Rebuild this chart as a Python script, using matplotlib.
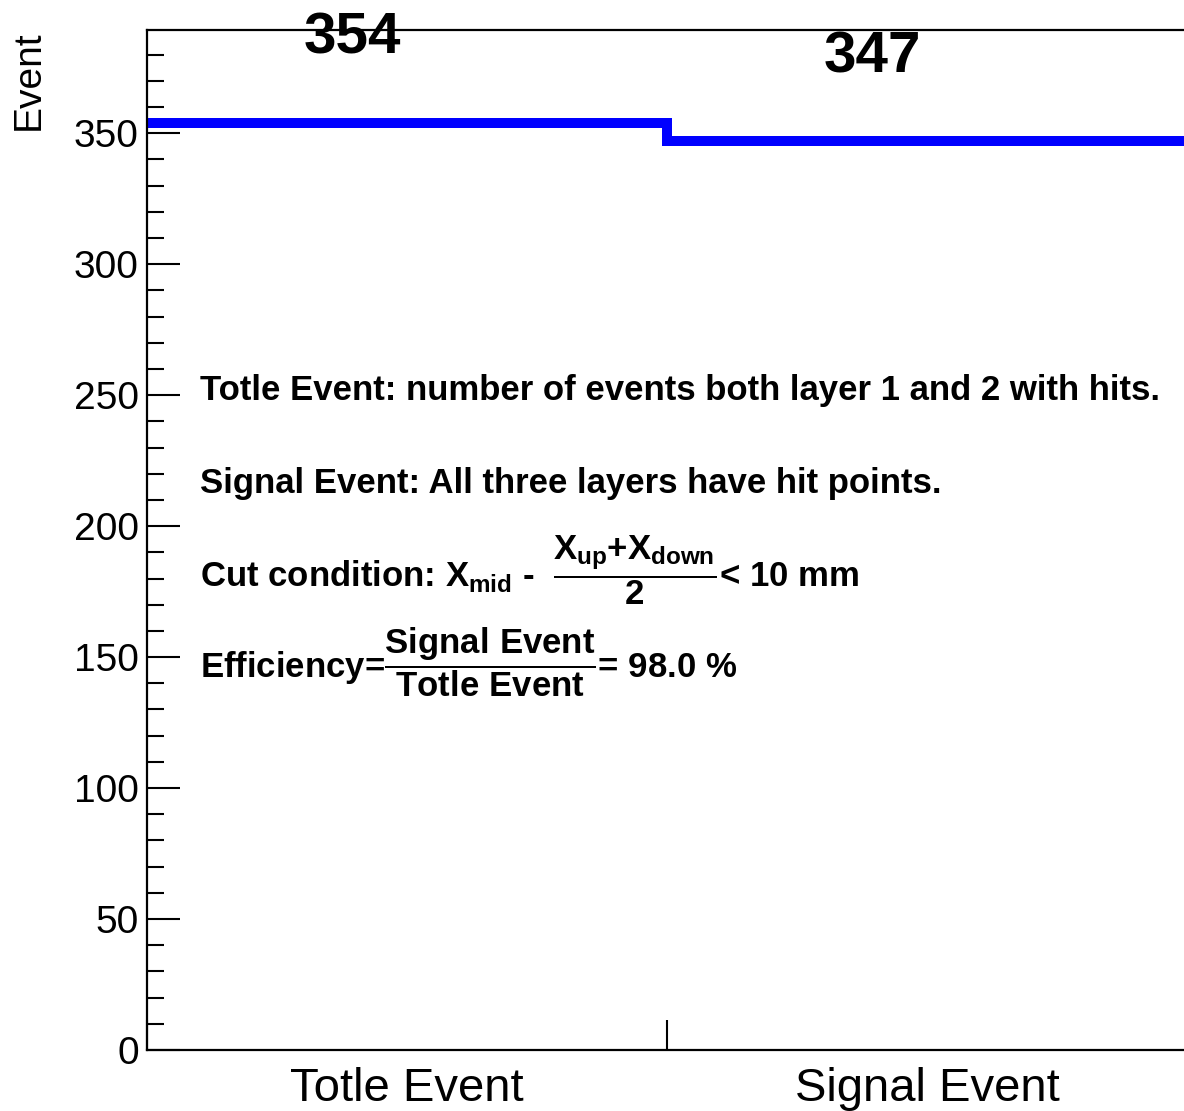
import matplotlib
matplotlib.use('Agg')
import matplotlib.pyplot as plt
import numpy as np

# bin contents of the event-count histogram
categories = ['Totle Event', 'Signal Event']
counts = [354, 347]

plt.rcParams['font.family'] = ['Liberation Sans', 'DejaVu Sans']
plt.rcParams['mathtext.fontset'] = 'custom'
plt.rcParams['mathtext.rm'] = 'Liberation Sans:bold'
plt.rcParams['mathtext.it'] = 'Liberation Sans:bold'
plt.rcParams['mathtext.bf'] = 'Liberation Sans:bold'
plt.rcParams['mathtext.sf'] = 'Liberation Sans:bold'

fig = plt.figure(figsize=(11.84, 11.11), dpi=100)
ax = fig.add_axes([147 / 1184, 61 / 1111, 1040 / 1184, 1020 / 1111])

edges = np.arange(len(counts) + 1)
ax.stairs(counts, edges, color='#0000ff', linewidth=7.2, baseline=None)

# bin content written over each bin
for i, c in enumerate(counts):
    ax.text(i + 0.5 - 0.105, c + 32, str(c), ha='center', va='center',
            fontsize=42, fontweight='bold')

ax.set_xlim(0, len(counts))
ax.set_ylim(0, 1.1 * max(counts))

# x axis: tick at bin boundary, labels at bin centres
ax.set_xticks(edges)
ax.set_xticklabels([])
ax.set_xticks(edges[:-1] + 0.5, minor=True)
ax.set_xticklabels(categories, minor=True, fontsize=34)
ax.tick_params(axis='x', which='major', direction='in', length=21.6, width=1.5,
               top=False)
ax.tick_params(axis='x', which='minor', length=0, pad=12)

ax.set_yticks(np.arange(0, 351, 50))
ax.set_yticks(np.arange(0, 390, 10), minor=True)
ax.tick_params(axis='y', which='major', direction='in', length=23.8, width=1.5,
               labelsize=28, pad=6, right=False)
ax.tick_params(axis='y', which='minor', direction='in', length=12.2, width=1.5,
               right=False)

for s in ax.spines.values():
    s.set_linewidth(1.6)

ax.set_ylabel('Event', fontsize=28, loc='top')
ax.yaxis.set_label_coords(-0.096, 1.0)

eff = 100.0 * counts[1] / counts[0]
lines = [
    'Totle Event: number of events both layer 1 and 2 with hits.',
    'Signal Event: All three layers have hit points.',
    r'Cut condition: $X_{mid}$ -  $\dfrac{X_{up}{+}X_{down}}{2}$< 10 mm',
    r'Efficiency=$\dfrac{Signal\ Event}{Totle\ Event}$' + '= %.1f %%' % eff,
]
ys = [0.637, 0.546, 0.454, 0.365]
for t, y in zip(lines, ys):
    ax.text(0.051, y, t, transform=ax.transAxes, ha='left', va='baseline',
            fontsize=25, fontweight='bold')

fig.savefig('out.png', dpi=100)
